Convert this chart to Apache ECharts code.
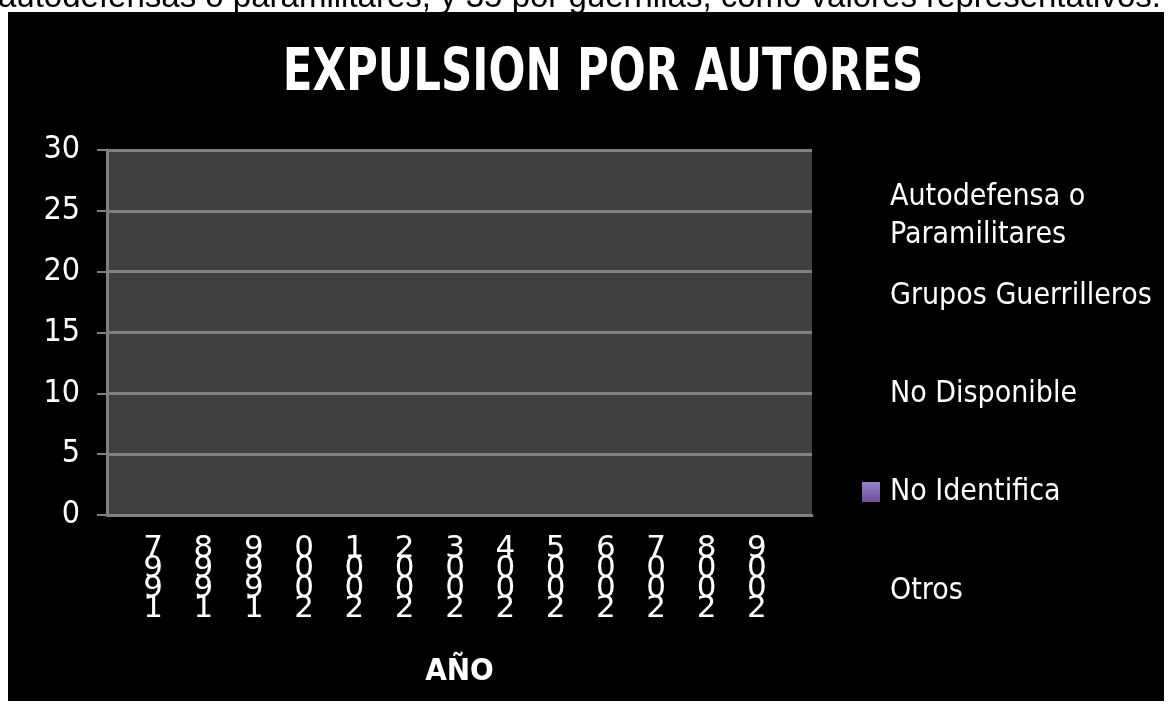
<!DOCTYPE html>
<html>
<head>
<meta charset="utf-8">
<script src="https://cdn.jsdelivr.net/npm/echarts@6/dist/echarts.min.js"></script>
<style>
html,body{margin:0;padding:0;background:#fff;}
#chart{width:1171px;height:709px;}
</style>
</head>
<body>
<div id="chart"></div>
<script>
// ---- data ----
const titleText = 'EXPULSION POR AUTORES';
const xAxisName = 'AÑO';
const aboveText = 'autodefensas o paramilitares, y 35 por guerrillas, como valores representativos.';
const years = ['1997','1998','1999','2000','2001','2002','2003','2004','2005','2006','2007','2008','2009'];
const yTicks = [0, 5, 10, 15, 20, 25, 30];
const seriesNames = ['Autodefensa o Paramilitares', 'Grupos Guerrilleros', 'No Disponible', 'No Identifica', 'Otros'];
const autodefensa = [0,0,0,0,0,0,0,0,0,0,0,0,0];
const guerrilleros = [0,0,0,0,0,0,0,0,0,0,0,0,0];
const noDisponible = [0,0,0,0,0,0,0,0,0,0,0,0,0];
const noIdentifica = [0,0,0,0,0,0,0,0,0,0,0,0,0];
const otros = [0,0,0,0,0,0,0,0,0,0,0,0,0];
const seriesData = [autodefensa, guerrilleros, noDisponible, noIdentifica, otros];

const seriesColors = [
  '#000000', '#000000', '#000000',
  new echarts.graphic.LinearGradient(0,0,0,1,[{offset:0,color:'#9b82c9'},{offset:1,color:'#6b4f99'}]),
  '#000000'
];
const legendCenters = [216, 296, 394, 492, 591];

const chart = echarts.init(document.getElementById('chart'), null, {renderer:'canvas'});

const legends = seriesNames.map((n, i) => {
  const lines = (i === 0) ? 2 : 1;
  return {
    data: [n],
    orient: 'vertical',
    left: 862,
    top: legendCenters[i] - lines * 19,
    padding: 0,
    itemWidth: 18,
    itemHeight: 20,
    icon: 'rect',
    selectedMode: false,
    formatter: name => name === 'Autodefensa o Paramilitares' ? 'Autodefensa o\nParamilitares' : name,
    textStyle: {
      color: '#ffffff',
      fontFamily: 'DejaVu Sans Condensed',
      fontSize: 30,
      lineHeight: 38,
      padding: [0, 0, 0, 5]
    }
  };
});

const option = {
  backgroundColor: '#ffffff',
  animation: false,
  graphic: [
    {
      type: 'text', z: -30, x: -2, y: -2,
      style: { text: aboveText, fill: '#000', font: '33px "Liberation Sans"', textAlign: 'left', textVerticalAlign: 'middle' }
    },
    {
      type: 'rect', z: -20, shape: { x: 8, y: 12, width: 1156, height: 689 },
      style: { fill: '#000000' }
    },
    {
      type: 'text', z: 10, x: 603, y: 75, scaleX: 0.75,
      style: { text: titleText, fill: '#ffffff', font: 'bold 58px "DejaVu Sans"', textAlign: 'center', textVerticalAlign: 'middle' }
    }
  ],
  legend: legends,
  grid: [
    { left: 128, top: 150, width: 654, height: 365, show: false },
    { left: 107, top: 150, width: 705, height: 365, show: true, backgroundColor: '#404040', borderWidth: 0 }
  ],
  xAxis: [
    {
      type: 'category', gridIndex: 0, data: years,
      axisLine: { show: false }, axisTick: { show: false },
      axisLabel: {
        color: '#ffffff', margin: 24, interval: 0,
        fontSize: 31, fontFamily: 'DejaVu Sans', lineHeight: 20,
        formatter: v => v.split('').reverse().map(c => '{d|' + c + '}').join('\n'),
        rich: { d: { color: '#ffffff', fontFamily: 'DejaVu Sans', fontSize: 31, lineHeight: 20 } }
      }
    },
    {
      type: 'category', gridIndex: 1, data: years,
      axisLine: { show: true, lineStyle: { color: '#808080', width: 3 } },
      axisTick: { show: false }, axisLabel: { show: false },
      name: xAxisName, nameLocation: 'middle', nameGap: 141,
      nameTextStyle: { color: '#ffffff', fontFamily: 'DejaVu Sans Condensed', fontWeight: 'bold', fontSize: 31 }
    }
  ],
  yAxis: [
    { type: 'value', gridIndex: 0, min: 0, max: 30, interval: 5, show: false },
    {
      type: 'value', gridIndex: 1, min: yTicks[0], max: yTicks[yTicks.length-1], interval: 5,
      axisLine: { show: true, lineStyle: { color: '#808080', width: 3 } },
      axisTick: { show: true, length: 10, lineStyle: { color: '#808080', width: 2 } },
      splitLine: { show: true, lineStyle: { color: '#808080', width: 3 } },
      axisLabel: { color: '#ffffff', fontFamily: 'DejaVu Sans Condensed', fontSize: 32, margin: 27 }
    }
  ],
  series: seriesNames.map((n, i) => ({
    name: n, type: 'bar', xAxisIndex: 0, yAxisIndex: 0,
    data: seriesData[i],
    itemStyle: { color: seriesColors[i] }
  }))
};
chart.setOption(option);
</script>
</body>
</html>
